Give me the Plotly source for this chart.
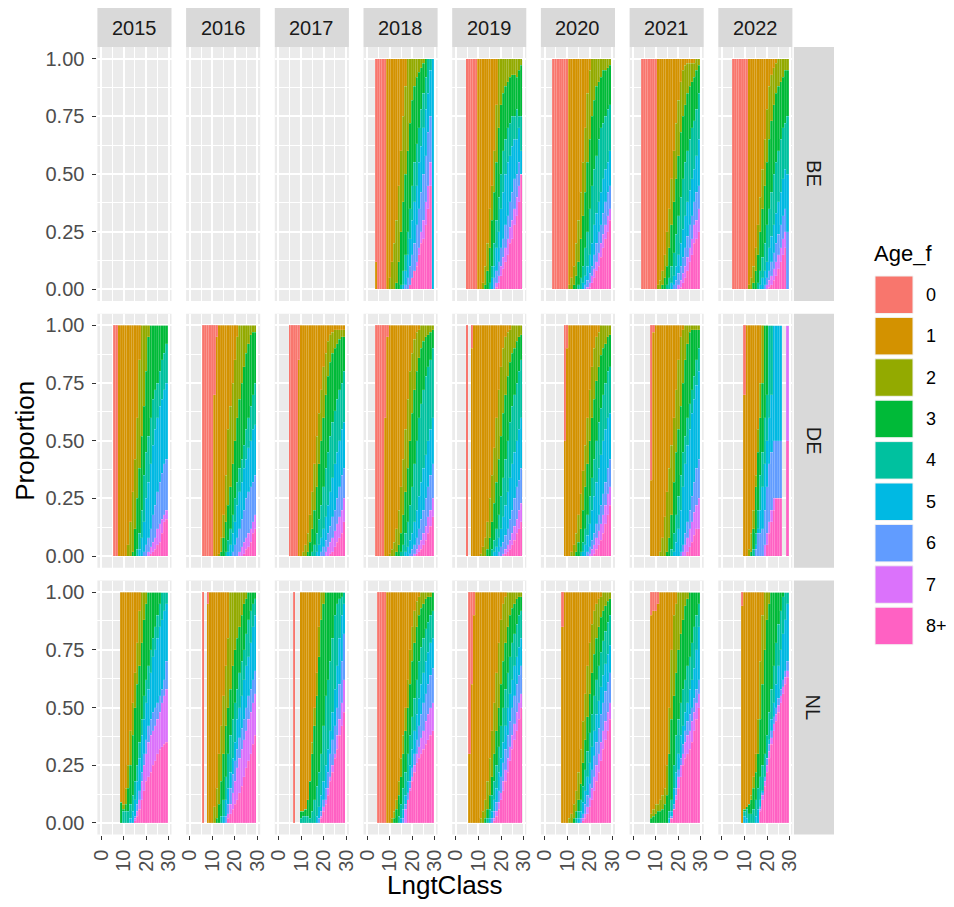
import plotly.graph_objects as go

# ---------------- categories / labels ----------------
YEARS = [2015, 2016, 2017, 2018, 2019, 2020, 2021, 2022]
COUNTRIES = ["BE", "DE", "NL"]
AGE_LABELS = ["0", "1", "2", "3", "4", "5", "6", "7", "8+"]
AGE_COLORS = ["#F8766D", "#D39200", "#93AA00", "#00BA38", "#00C19F",
              "#00B9E3", "#619CFF", "#DB72FB", "#FF61C3"]
X_TICKS = [0, 10, 20, 30]
X_MINOR = [5, 15, 25]
Y_TICKS = [0, 0.25, 0.5, 0.75, 1.0]
Y_TICK_TEXT = ["0.00", "0.25", "0.50", "0.75", "1.00"]
Y_MINOR = [0.125, 0.375, 0.625, 0.875]
LAST_CLASS = 29

# ---------------- data ----------------
# Each panel: (first length class, [B1..B8]) where Bk[i] is the share of fish
# of age >= k at length class L0+i. None = no bar.

BE_2018 = (4, [
    [.12] + [0]*4 + [1]*21,
    [0]*6 + [.05, .12, .2, .3, .45, .6, .75, .88] + [1]*12,
    [0]*9 + [.03, .12, .25, .38, .5, .6, .72, .82, .88, .92, .94, .96, .98] + [1]*4,
    [0]*11 + [.02, .08, .15, .25, .35, .45, .55, .63, .7, .78, .85, .92] + [1]*3,
    [0]*12 + [.02, .08, .15, .22, .3, .38, .45, .55, .62, .7, .78, .85, .95, 1],
    [0]*13 + [.02, .05, .1, .15, .2, .28, .35, .42, .5, .58, .68, .75, 0],
    [0]*15 + [.02, .05, .08, .12, .18, .25, .3, .38, .45, .55, 0],
    [0]*14 + [.01, .03, .05, .08, .1, .15, .2, .22, .28, .35, .45, 0],
])
BE_2019 = (5, [
    [0]*5 + [1]*20,
    [0]*7 + [.03, .1, .2, .35, .45, .6, .8] + [1]*11,
    [0]*8 + [.02, .08, .18, .3, .42, .55, .7, .8, .85, .88, .9, .92, .93, .93, .92, .95, .97],
    [0]*10 + [.03, .1, .2, .3, .4, .5, .6, .65, .7, .72, .75, .75, .78, .75, .75],
    [0]*11 + [.05, .1, .18, .25, .35, .42, .5, .55, .58, .62, .65, .65, .7, .6],
    [0]*12 + [.05, .08, .12, .18, .22, .28, .32, .38, .42, .48, .5, .55, .5],
    [0]*13 + [.03, .06, .1, .14, .18, .22, .27, .3, .35, .4, .45, .5],
    [0]*13 + [.01, .03, .06, .09, .12, .15, .2, .22, .28, .32, .38, .5],
])
BE_2020 = (4, [
    [0]*7 + [1]*19,
    [0]*7 + [.02, .05, .1, .2, .3, .42, .55, .7, .85, .95] + [1]*9,
    [0]*9 + [.02, .06, .12, .22, .32, .42, .55, .65, .75, .82, .88, .9, .92, .95, .95, .96, .97],
    [0]*11 + [.02, .05, .1, .18, .25, .35, .45, .52, .58, .65, .7, .72, .75, .78, .8],
    [0]*13 + [.03, .06, .1, .15, .2, .28, .33, .38, .42, .48, .52, .55, .6],
    [0]*14 + [.02, .04, .07, .1, .15, .2, .25, .28, .33, .38, .42, .45],
    [0]*15 + [.01, .03, .06, .09, .12, .16, .2, .24, .28, .32, .35],
    [0]*16 + [.01, .03, .05, .08, .1, .14, .18, .22, .25, .3],
])
BE_2021 = (4, [
    [0]*7 + [1]*19,
    [0]*7 + [.02, .04, .08, .15, .25, .35, .48, .6, .72, .82, .9, .95, .97, .98, .98, .98, .98] + [1]*2,
    [0]*9 + [.02, .05, .1, .18, .28, .38, .48, .58, .68, .75, .8, .85, .88, .9, .92, .95, .97],
    [0]*11 + [.02, .05, .1, .16, .24, .32, .4, .48, .55, .6, .65, .7, .73, .78, .85],
    [0]*13 + [.03, .06, .1, .15, .2, .26, .32, .38, .43, .48, .52, .58, .65],
    [0]*14 + [.02, .04, .07, .1, .14, .18, .23, .28, .32, .38, .42, .45],
    [0]*16 + [.02, .04, .07, .1, .14, .18, .22, .28, .3, .35],
    [0]*17 + [.01, .03, .05, .08, .12, .15, .2, .22, .25],
])
BE_2022 = (5, [
    [0]*7 + [1]*18,
    [0]*7 + [.02, .05, .1, .18, .28, .4, .52, .65, .78, .88, .93, .96, .98] + [1]*5,
    [0]*9 + [.03, .08, .15, .25, .35, .45, .55, .65, .73, .8, .85, .88, .9, .92, .95, .95],
    [0]*11 + [.03, .08, .14, .2, .28, .35, .42, .5, .55, .6, .65, .7, .72, .75],
    [0]*12 + [.02, .05, .08, .12, .18, .23, .28, .33, .38, .42, .48, .52, .5],
    [0]*14 + [.02, .05, .08, .12, .16, .2, .24, .28, .32, .35, .25],
    [0]*15 + [.02, .04, .06, .09, .12, .15, .18, .22, .25, 0],
    [0]*16 + [.01, .02, .04, .06, .09, .12, .15, .18, 0],
])

DE_2015 = (6, [
    [0]*2 + [1]*22,
    [0]*6 + [.05, .15, .28, .42, .6, .85] + [1]*12,
    [0]*8 + [.02, .12, .25, .38, .52, .65, .8, .95] + [1]*8,
    [0]*10 + [.03, .1, .2, .35, .45, .52, .6, .68, .72, .75, .8, .85, .88, .92],
    [0]*11 + [.03, .08, .15, .25, .32, .4, .48, .55, .6, .65, .68, .72, .75],
    [0]*13 + [.02, .05, .08, .12, .18, .22, .28, .32, .36, .4, .42],
    [0]*15 + [.02, .04, .06, .08, .12, .14, .16, .18, .2],
    [0]*16 + [.01, .02, .03, .05, .06, .1, .15, .16],
])
DE_2016 = (6, [
    [0]*5 + [.7, .95] + [1]*17,
    [0]*7 + [.01, .08, .18, .35, .55, .65, .75, .85, .95] + [1]*8,
    [0]*8 + [.02, .08, .15, .22, .3, .4, .5, .6, .68, .75, .82, .88, .92, .96, .97, .97],
    [0]*10 + [.02, .07, .12, .18, .25, .32, .38, .42, .48, .55, .6, .65, .7, .75],
    [0]*11 + [.02, .05, .1, .15, .22, .28, .32, .38, .42, .47, .5, .55, .57],
    [0]*13 + [.02, .05, .08, .12, .16, .2, .25, .28, .3, .32, .35],
    [0]*16 + [.02, .04, .06, .08, .1, .12, .15, .18],
    [0]*18 + [.01, .03, .04, .06, .1, .12],
])
DE_2017 = (5, [
    [0]*4 + [.85] + [1]*20,
    [0]*6 + [.02, .05, .1, .18, .28, .4, .52, .62, .72, .82, .88, .93, .96, .97, .98, .98, .98, .98, .98],
    [0]*8 + [.02, .06, .12, .2, .3, .4, .5, .6, .7, .78, .84, .88, .9, .92, .94, .95, .95],
    [0]*10 + [.02, .05, .1, .16, .22, .3, .38, .45, .52, .58, .63, .68, .72, .75, .8],
    [0]*12 + [.02, .05, .08, .12, .17, .22, .28, .34, .4, .45, .5, .55, .58],
    [0]*14 + [.02, .04, .07, .1, .13, .17, .2, .25, .3, .35, .38],
    [0]*16 + [.02, .04, .06, .08, .11, .14, .17, .2, .25],
    [0]*18 + [.01, .02, .04, .06, .08, .1, .15],
])
DE_2018 = (4, [
    [0]*4 + [.6, .95] + [1]*20,
    [0]*6 + [.01, .03, .06, .12, .2, .3, .42, .55, .68, .8, .88, .94, .97, .98] + [1]*6,
    [0]*9 + [.02, .05, .1, .18, .28, .38, .5, .62, .72, .8, .86, .9, .93, .95, .96, .97, .98],
    [0]*11 + [.02, .05, .1, .15, .22, .3, .4, .5, .6, .66, .72, .78, .82, .85, .9],
    [0]*13 + [.02, .04, .07, .1, .15, .2, .26, .32, .38, .44, .5, .55, .6],
    [0]*15 + [.01, .03, .05, .08, .12, .16, .2, .25, .3, .35, .4],
    [0]*17 + [.01, .03, .05, .07, .1, .13, .17, .2, .25],
    [0]*18 + [.01, .02, .03, .05, .07, .1, .13, .17],
])
DE_2019 = (5, [
    [0, None, .9] + [1]*22,
    [0]*6 + [.01, .04, .08, .15, .25, .35, .47, .6, .72, .82, .9, .95, .97, .98] + [1]*5,
    [0]*9 + [.03, .08, .15, .23, .32, .42, .52, .62, .7, .78, .84, .88, .9, .93, .95, .96],
    [0]*11 + [.03, .07, .12, .18, .26, .34, .42, .5, .58, .65, .7, .75, .8, .85],
    [0]*12 + [.02, .04, .08, .12, .17, .22, .28, .34, .4, .45, .5, .55, .6],
    [0]*14 + [.02, .04, .06, .09, .12, .16, .2, .25, .3, .33, .38],
    [0]*16 + [.01, .03, .05, .07, .1, .13, .16, .2, .23],
    [0]*17 + [.01, .02, .03, .05, .07, .1, .12, .15],
])
DE_2020 = (9, [
    [.5, .9] + [1]*19,
    [0]*3 + [.02, .05, .1, .18, .27, .37, .48, .6, .72, .82, .9, .95, .97] + [1]*5,
    [0]*5 + [.02, .06, .12, .2, .3, .4, .5, .6, .68, .76, .82, .87, .9, .92, .95, .96],
    [0]*7 + [.02, .06, .12, .18, .26, .34, .42, .5, .58, .64, .7, .75, .8, .82],
    [0]*8 + [.02, .05, .09, .14, .2, .26, .32, .38, .44, .5, .55, .6, .62],
    [0]*10 + [.02, .04, .07, .1, .14, .18, .22, .27, .32, .38, .42],
    [0]*11 + [.01, .03, .05, .08, .11, .14, .18, .22, .27, .3],
    [0]*13 + [.01, .03, .05, .07, .1, .14, .18, .22],
])
DE_2021 = (8, [
    [.33, .97] + [1]*20,
    [0]*4 + [.02, .08, .17, .28, .38, .48, .6, .72, .85, .95, .98] + [1]*7,
    [0]*7 + [.02, .08, .18, .32, .45, .55, .65, .75, .85, .92, .97, .98, .98, .98, .98],
    [0]*9 + [.03, .1, .18, .26, .35, .45, .52, .6, .66, .72, .78, .85, .9],
    [0]*10 + [.02, .06, .12, .2, .3, .4, .48, .55, .62, .68, .74, .8],
    [0]*13 + [.02, .05, .1, .15, .2, .26, .32, .38, .42],
    [0]*14 + [.02, .05, .08, .12, .15, .19, .22, .25],
    [0]*16 + [.02, .04, .06, .09, .12, .12],
])
DE_2022 = (10, [
    [.7, 1, 1, 1, 1, 1, 1, 1, 1, 1, 1, 1, 1, 1, 1, 1, 1, None, None, 1],
    [0, 0, .03, .1, .2, .35, .55, .75, 1, 1, 1, 1, 1, 1, 1, 1, 1, 0, 0, 1],
    [0, 0, 0, .02, .12, .3, .45, .6, .75, 1, 1, 1, 1, 1, 1, 1, 1, 0, 0, 1],
    [0, 0, 0, 0, .03, .1, .2, .35, .45, .6, .7, 1, 1, 1, 1, 1, 1, 0, 0, 1],
    [0, 0, 0, 0, 0, .05, .12, .2, .3, .4, .5, .6, .7, 1, 1, 1, 1, 0, 0, 1],
    [0, 0, 0, 0, 0, .03, .1, .1, .12, .2, .3, .4, .45, .5, .5, .5, .5, 0, 0, 1],
    [0, 0, 0, 0, 0, 0, 0, 0, 0, .05, .1, .15, .2, .25, .25, .25, .25, 0, 0, 1],
    [0, 0, 0, 0, 0, 0, 0, 0, 0, 0, .05, .1, .15, .2, .25, .25, .25, 0, 0, .5],
])

NL_2015 = (9, [
    [1]*21,
    [.09, .08, .15, .25, .4, .52, .65, .78, .92] + [1]*12,
    [.09, .06, .08, .15, .25, .38, .5, .6, .68, .78, .88, .95] + [1]*9,
    [0, .05, .05, .05, .08, .12, .18, .25, .35, .45, .55, .62, .68, .75, .8, .85, .9, .95, 1, 1, 1],
    [0]*4 + [.02, .05, .1, .18, .28, .38, .45, .52, .58, .65, .72, .75, .8, .85, .88, .92, .95],
    [0]*6 + [.03, .08, .14, .22, .3, .36, .42, .45, .48, .5, .52, .55, .58, .62, .7],
    [0]*6 + [.02, .05, .1, .18, .25, .3, .35, .38, .4, .42, .45, .48, .52, .55, .58],
    [0]*6 + [.01, .03, .06, .1, .14, .18, .2, .22, .25, .27, .3, .32, .33, .34, .35],
])
NL_2016 = (6, [
    [0, None, .95] + [1]*21,
    [0]*5 + [.07, .15, .3, .42, .55, .68, .8] + [1]*12,
    [0]*6 + [.02, .08, .18, .3, .42, .5, .58, .68, .75, .8, .85, .9, .95, .97] + [1]*4,
    [0]*8 + [.03, .1, .2, .3, .38, .45, .52, .58, .65, .7, .75, .82, .88, .92, .95, .97],
    [0]*9 + [.03, .1, .15, .22, .28, .35, .45, .5, .55, .62, .68, .72, .78, .85, .9],
    [0]*10 + [.03, .08, .15, .21, .27, .32, .37, .41, .45, .5, .55, .58, .62, .66],
    [0]*11 + [.04, .08, .13, .18, .24, .28, .32, .36, .4, .45, .48, .52, .56],
    [0]*10 + [.01, .02, .04, .06, .08, .1, .13, .16, .2, .24, .27, .3, .34, .38],
])
NL_2017 = (7, [
    [0, None, None] + [1]*20,
    [0]*3 + [.05, .05, .06, .1, .18, .35, .5, .65, .85] + [1]*11,
    [0]*3 + [.05, .06, .1, .15, .22, .3, .42, .55, .72, .88, .95] + [1]*9,
    [0]*3 + [.02, .03, .03, .03, .02, .05, .1, .16, .22, .3, .42, .55, .62, .7, .8, .9, .95, .97, .98, 1],
    [0]*10 + [.03, .07, .12, .18, .25, .32, .4, .48, .58, .68, .8, .9, .95],
    [0]*11 + [.02, .05, .1, .15, .22, .3, .36, .42, .5, .6, .7, .82],
    [0]*12 + [.03, .07, .1, .15, .2, .25, .3, .38, .45, .52, .62],
    [0]*12 + [.02, .05, .08, .12, .18, .22, .28, .32, .38, .42, .48],
])
NL_2018 = (5, [
    [0]*4 + [1]*21,
    [0]*6 + [.02, .05, .1, .18, .28, .38, .5, .62, .75, .85, .92, .96, .98] + [1]*6,
    [0]*7 + [.02, .06, .12, .2, .3, .4, .5, .6, .7, .78, .85, .9, .93, .95, .97, .98, .98, 1],
    [0]*9 + [.03, .08, .15, .22, .3, .38, .46, .54, .62, .7, .76, .8, .84, .87, .9, .92],
    [0]*10 + [.02, .06, .12, .18, .25, .32, .4, .47, .54, .6, .65, .7, .74, .78, .8],
    [0]*11 + [.02, .08, .13, .18, .24, .3, .36, .42, .47, .52, .56, .6, .64, .67],
    [0]*12 + [.06, .1, .15, .2, .25, .3, .33, .37, .4, .44, .47, .5, .52],
    [0]*13 + [.1, .14, .18, .22, .26, .28, .3, .32, .34, .36, .38, .4],
])
NL_2019 = (6, [
    [.3, .6, .9] + [1]*21,
    [0]*5 + [.02, .05, .1, .18, .28, .4, .52, .65, .78, .88, .95, .98] + [1]*7,
    [0]*7 + [.02, .06, .12, .2, .3, .4, .5, .6, .7, .78, .85, .9, .93, .95, .97, .98, .98],
    [0]*8 + [.02, .06, .12, .18, .25, .33, .42, .5, .58, .65, .72, .78, .82, .86, .9, .92],
    [0]*9 + [.02, .05, .1, .15, .22, .28, .35, .42, .5, .56, .62, .68, .72, .76, .8],
    [0]*10 + [.02, .05, .09, .14, .2, .26, .32, .38, .44, .5, .55, .6, .64, .68],
    [0]*11 + [.02, .05, .09, .13, .18, .23, .28, .33, .38, .43, .48, .52, .56],
    [0]*11 + [.01, .03, .06, .1, .14, .18, .22, .27, .32, .36, .4, .45, .5],
])
NL_2020 = (8, [
    [.85] + [1]*21,
    [0]*3 + [.02, .04, .08, .14, .22, .32, .44, .56, .68, .78, .86, .92, .95, .97, .98] + [1]*4,
    [0]*5 + [.02, .05, .1, .17, .26, .36, .46, .56, .65, .73, .8, .85, .89, .92, .94, .96, .97],
    [0]*6 + [.02, .05, .1, .16, .23, .31, .39, .47, .55, .62, .68, .74, .79, .83, .87, .9],
    [0]*7 + [.02, .05, .09, .14, .2, .26, .33, .4, .47, .53, .59, .64, .69, .73, .77],
    [0]*8 + [.02, .04, .08, .12, .17, .23, .29, .35, .41, .47, .52, .57, .61, .65],
    [0]*9 + [.02, .04, .07, .11, .15, .2, .25, .3, .35, .4, .44, .48, .52],
    [0]*9 + [.01, .02, .04, .07, .1, .14, .18, .22, .27, .32, .36, .4, .45],
])
NL_2021 = (8, [
    [.9, .92, .92, .95] + [1]*18,
    [.04, .06, .08, .08, .1, .12, .15, .25, .5, .75, .9, .95] + [1]*10,
    [.02, .03, .04, .05, .05, .06, .08, .12, .3, .45, .55, .65, .75, .82, .88, .94, .97] + [1]*5,
    [0]*8 + [.05, .1, .25, .38, .45, .52, .58, .62, .68, .72, .78, .85, .9, .95],
    [0]*8 + [.02, .05, .15, .22, .3, .38, .42, .48, .52, .58, .62, .67, .75, .85],
    [0]*9 + [.03, .08, .15, .23, .28, .34, .4, .44, .47, .5, .54, .58, .62],
    [0]*9 + [.02, .06, .12, .2, .25, .3, .35, .38, .4, .44, .48, .52, .56],
    [0]*8 + [.01, .03, .06, .1, .15, .2, .25, .28, .3, .32, .35, .4, .45, .5],
])
NL_2022 = (9, [
    [.94] + [1]*20,
    [0, .06, .07, .08, .12, .2, .3, .45, .7, .9] + [1]*11,
    [0, .06, .07, .08, .1, .15, .22, .3, .45, .6, .75, .88, .95] + [1]*8,
    [0, .05, .06, .04, .04, .06, .1, .15, .2, .25, .3, .38, .48, .58, .68, .78, .86, .92, .98, 1, 1],
    [0, .03, .02, 0, 0, 0, .03, .06, .1, .14, .2, .28, .36, .45, .52, .6, .68, .75, .82, .88, .95],
    [0]*8 + [.07, .13, .2, .28, .34, .4, .46, .5, .54, .58, .62, .66, .7],
    [0]*8 + [.06, .12, .18, .25, .31, .37, .43, .47, .51, .55, .59, .63, .66],
    [0]*7 + [.02, .05, .1, .16, .22, .28, .34, .4, .44, .48, .52, .56, .6, .63],
])

PANELS = {
    ("BE", 2018): BE_2018, ("BE", 2019): BE_2019, ("BE", 2020): BE_2020,
    ("BE", 2021): BE_2021, ("BE", 2022): BE_2022,
    ("DE", 2015): DE_2015, ("DE", 2016): DE_2016, ("DE", 2017): DE_2017,
    ("DE", 2018): DE_2018, ("DE", 2019): DE_2019, ("DE", 2020): DE_2020,
    ("DE", 2021): DE_2021, ("DE", 2022): DE_2022,
    ("NL", 2015): NL_2015, ("NL", 2016): NL_2016, ("NL", 2017): NL_2017,
    ("NL", 2018): NL_2018, ("NL", 2019): NL_2019, ("NL", 2020): NL_2020,
    ("NL", 2021): NL_2021, ("NL", 2022): NL_2022,
}


def panel_proportions(panel):
    L0, bounds = panel
    n = LAST_CLASS - L0 + 1
    out = []
    for i in range(n):
        first = bounds[0][i] if i < len(bounds[0]) else bounds[0][-1]
        if first is None:
            continue
        cum = [1.0]
        for k in range(8):
            lst = bounds[k]
            v = lst[i] if i < len(lst) else lst[-1]
            if v is None:
                v = 0
            cum.append(min(float(v), cum[-1]))
        cum.append(0.0)
        out.append((L0 + i, [cum[a] - cum[a + 1] for a in range(9)]))
    return out


# ---------------- layout geometry (page pixels) ----------------
PAGE_W, PAGE_H = 954, 907
OFF = 8  # default page margin around the plot div
W, H = PAGE_W - OFF, PAGE_H - OFF
COL_LEFT0, COL_STEP, PANEL_W = 97.4, 88.7, 74.1
ROW_TOP0, ROW_STEP, PANEL_H = 47.0, 266.75, 254.0
STRIP_TOP = 8.0
STRIP_RIGHT = 834.0
X_RANGE = [-1.6, 31.2]
Y_RANGE = [-0.05, 1.05]

FONT = "Liberation Sans, Arial, sans-serif"
TICK_FONT = dict(family=FONT, size=20, color="#4D4D4D")
STRIP_FONT = dict(family=FONT, size=20, color="#1A1A1A")


def px(x):
    return (x - OFF) / W


def py(y):
    return 1 - (y - OFF) / H


fig = go.Figure()
layout = {}
shapes = []
annotations = []

for r, country in enumerate(COUNTRIES):
    for c, year in enumerate(YEARS):
        idx = r * 8 + c + 1
        xs = "" if idx == 1 else str(idx)
        xl = COL_LEFT0 + c * COL_STEP
        xr = xl + PANEL_W
        yt = ROW_TOP0 + r * ROW_STEP
        yb = yt + PANEL_H
        bottom = (r == len(COUNTRIES) - 1)
        left = (c == 0)
        layout["xaxis" + xs] = dict(
            domain=[px(xl), px(xr)], range=X_RANGE, anchor="y" + xs,
            automargin=False,
            tickmode="array", tickvals=X_TICKS, ticktext=[str(v) for v in X_TICKS],
            showticklabels=bottom, ticks="outside" if bottom else "",
            ticklen=4, tickwidth=1.3, tickcolor="#333333", tickangle=-90,
            ticklabelstandoff=2,
            tickfont=TICK_FONT,
            showgrid=True, gridcolor="white", gridwidth=1.5, zeroline=False,
            showline=False, fixedrange=True,
            minor=dict(tickmode="array", tickvals=X_MINOR, showgrid=True,
                       gridcolor="white", gridwidth=0.7, ticks=""),
        )
        layout["yaxis" + xs] = dict(
            domain=[py(yb), py(yt)], range=Y_RANGE, anchor="x" + xs,
            automargin=False,
            tickmode="array", tickvals=Y_TICKS, ticktext=Y_TICK_TEXT,
            showticklabels=left, ticks="outside" if left else "",
            ticklen=4, tickwidth=1.3, tickcolor="#333333",
            ticklabelstandoff=4,
            tickfont=TICK_FONT,
            showgrid=True, gridcolor="white", gridwidth=1.5, zeroline=False,
            showline=False, fixedrange=True,
            minor=dict(tickmode="array", tickvals=Y_MINOR, showgrid=True,
                       gridcolor="white", gridwidth=0.7, ticks=""),
        )
        panel = PANELS.get((country, year))
        if panel is not None:
            rows = panel_proportions(panel)
            lengths = [L for L, _ in rows]
            for a in range(8, -1, -1):
                fig.add_trace(go.Bar(
                    x=lengths, y=[p[a] for _, p in rows],
                    xaxis="x" + xs, yaxis="y" + xs, width=1.0,
                    marker=dict(color=AGE_COLORS[a],
                                line=dict(width=0.5, color="rgba(255,255,255,0.25)")),
                    name=AGE_LABELS[a], showlegend=False, hoverinfo="skip",
                ))
        else:
            # empty facet: keep the panel drawn
            fig.add_trace(go.Scatter(x=[None], y=[None], xaxis="x" + xs, yaxis="y" + xs,
                                     mode="markers", showlegend=False, hoverinfo="skip"))
        # top strips
        if r == 0:
            shapes.append(dict(type="rect", xref="paper", yref="paper",
                               x0=px(xl), x1=px(xr), y0=py(yt), y1=py(STRIP_TOP),
                               fillcolor="#D9D9D9", line=dict(width=0), layer="below"))
            annotations.append(dict(x=px((xl + xr) / 2), y=py((yt + STRIP_TOP) / 2),
                                    xref="paper", yref="paper", text=str(year),
                                    xanchor="center", yanchor="middle",
                                    showarrow=False, font=STRIP_FONT))
        # right strips
        if c == len(YEARS) - 1:
            shapes.append(dict(type="rect", xref="paper", yref="paper",
                               x0=px(xr + 1.5), x1=px(STRIP_RIGHT), y0=py(yb), y1=py(yt),
                               fillcolor="#D9D9D9", line=dict(width=0), layer="below"))
            annotations.append(dict(x=px((xr + 1.5 + STRIP_RIGHT) / 2), y=py((yt + yb) / 2),
                                    xref="paper", yref="paper", text=country,
                                    xanchor="center", yanchor="middle",
                                    textangle=90, showarrow=False, font=STRIP_FONT))

# axis titles
annotations.append(dict(x=px(COL_LEFT0 + (7 * COL_STEP + PANEL_W) / 2), y=py(885),
                        xref="paper", yref="paper", text="LngtClass", showarrow=False,
                        xanchor="center", yanchor="middle",
                        font=dict(family=FONT, size=26, color="#000000")))
annotations.append(dict(x=px(25), y=py(ROW_TOP0 + (2 * ROW_STEP + PANEL_H) / 2),
                        xref="paper", yref="paper", text="Proportion", textangle=-90,
                        xanchor="center", yanchor="middle",
                        showarrow=False, font=dict(family=FONT, size=26, color="#000000")))

# legend (drawn)
annotations.append(dict(x=px(872), y=py(253), xref="paper", yref="paper", text="Age_f",
                        xanchor="left", yanchor="middle", showarrow=False,
                        font=dict(family=FONT, size=22, color="#000000")))
KEY_TOP0, KEY_STEP, KEY_H = 276.0, 41.4, 37.5
for a, lab in enumerate(AGE_LABELS):
    t = KEY_TOP0 + a * KEY_STEP
    shapes.append(dict(type="rect", xref="paper", yref="paper",
                       x0=px(875), x1=px(913), y0=py(t + KEY_H), y1=py(t),
                       fillcolor=AGE_COLORS[a], line=dict(width=1, color="#F2F2F2")))
    annotations.append(dict(x=px(924), y=py(t + KEY_H / 2), xref="paper", yref="paper",
                            text=lab, xanchor="left", yanchor="middle", showarrow=False,
                            font=dict(family=FONT, size=18, color="#000000")))

fig.update_layout(
    **layout,
    template="none",
    width=W, height=H,
    margin=dict(l=0, r=0, t=0, b=0, pad=0),
    paper_bgcolor="white", plot_bgcolor="#EBEBEB",
    barmode="stack", showlegend=False,
    shapes=shapes, annotations=annotations,
    font=dict(family=FONT),
)

fig.write_html("out.html")
